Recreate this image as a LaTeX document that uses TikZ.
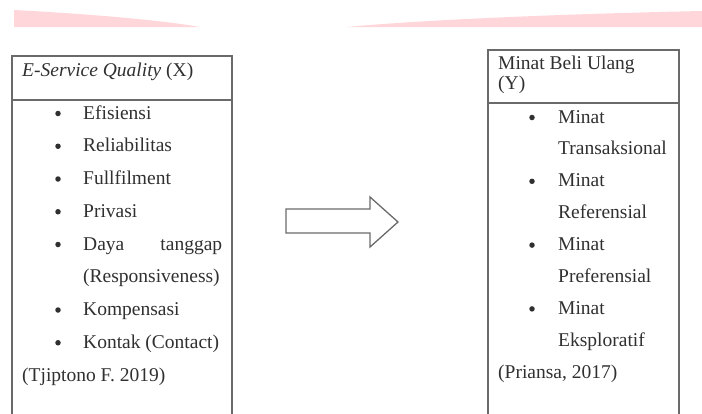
\documentclass[tikz,border=0pt]{standalone}
\usepackage{fontspec}
\setmainfont{Liberation Serif}
\definecolor{boxline}{HTML}{6A6A6A}
\definecolor{txt}{HTML}{303030}
\definecolor{band}{HTML}{FFD7DA}
\begin{document}
\begin{tikzpicture}[x=1pt,y=-1pt,
  boxframe/.style={draw=boxline,line width=1.3pt,rectangle,inner sep=0pt},
  item/.style={anchor=base west,inner sep=0pt,text=txt,font=\fontsize{19.5}{20}\selectfont},
  dot/.style={circle,fill=txt,inner sep=0pt,minimum size=5.5pt}]
\useasboundingbox (0,0) rectangle (702,413);
% pink bands
\fill[band] (14,10) .. controls (90,14) and (160,20) .. (200,27) -- (14,27) -- cycle;
\fill[band] (347,27) .. controls (420,20) and (560,14) .. (702,11) -- (702,27) -- cycle;
% left box
\node[boxframe,minimum width=220pt,minimum height=376pt] (lbox) at (122,244) {};
\coordinate (lsepL) at (12,100);
\coordinate (lsepR) at (232,100);
\draw[boxline,line width=1.3pt] (lsepL) -- (lsepR);
\node[item] (lh) at (22,76) {\textit{E-Service Quality} (X)};
\foreach \t [count=\i from 0] in {Efisiensi,Reliabilitas,Fullfilment,Privasi} {
  \node[item] (l\i) at (83,{119+32.75*\i}) {\t};
  \node[dot] (ld\i) at (58,{113.5+32.75*\i}) {};
}
\node[item] (l4) at (83,{119+32.75*4}) {\makebox[139pt][s]{Daya\hfill tanggap}};
\node[dot] (ld4) at (58,{113.5+32.75*4}) {};
\node[item] (l5) at (83,{119+32.75*5}) {(Responsiveness)};
\node[item] (l6) at (83,{119+32.75*6}) {Kompensasi};
\node[dot] (ld6) at (58,{113.5+32.75*6}) {};
\node[item] (l7) at (83,{119+32.75*7}) {Kontak (Contact)};
\node[dot] (ld7) at (58,{113.5+32.75*7}) {};
\node[item] (l8) at (22,{119+32.75*8}) {(Tjiptono F. 2019)};
% right box
\node[boxframe,minimum width=191pt,minimum height=382pt] (rbox) at (583.5,241) {};
\coordinate (rsepL) at (488,103);
\coordinate (rsepR) at (679,103);
\draw[boxline,line width=1.3pt] (rsepL) -- (rsepR);
\node[item] (rh1) at (498,69) {Minat Beli Ulang};
\node[item] (rh2) at (498,89) {(Y)};
\foreach \a/\b [count=\i from 0] in {Minat/Transaksional,Minat/Referensial,Minat/Preferensial,Minat/Eksploratif} {
  \node[item] (ra\i) at (558,{123+63.8*\i}) {\a};
  \node[item] (rb\i) at (558,{123+31.9+63.8*\i}) {\b};
  \node[dot] (rd\i) at (532,{117.5+63.8*\i}) {};
}
\node[item] (rsrc) at (498,{123+31.9*8}) {(Priansa, 2017)};
% block arrow
\coordinate (a1) at (286,209);
\coordinate (a2) at (370,209);
\coordinate (a3) at (370,197);
\coordinate (a4) at (398,222);
\coordinate (a5) at (370,247);
\coordinate (a6) at (370,233);
\coordinate (a7) at (286,233);
\draw[boxline,line width=1.3pt,line join=miter,fill=white] (a1) -- (a2) -- (a3) -- (a4) -- (a5) -- (a6) -- (a7) -- cycle;
\end{tikzpicture}
\end{document}
